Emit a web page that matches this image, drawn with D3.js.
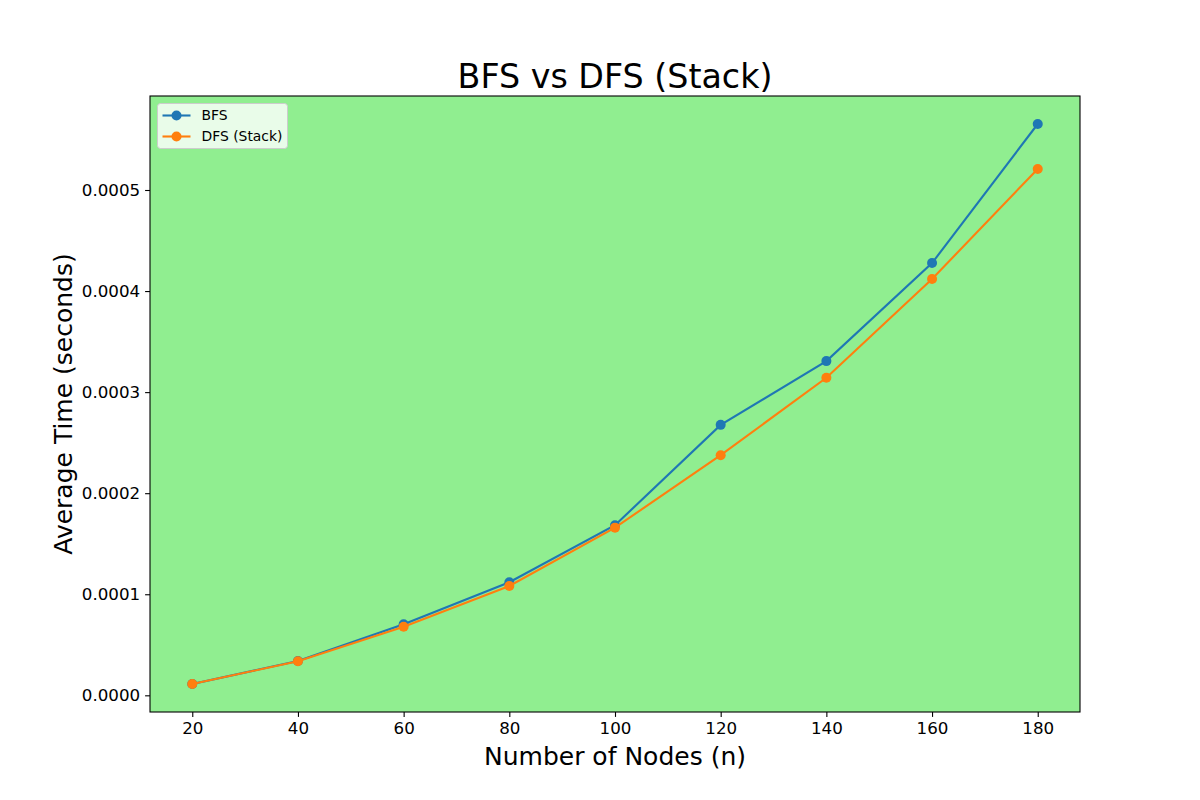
<!DOCTYPE html>
<html>
<head>
<meta charset="utf-8">
<script src="https://cdn.jsdelivr.net/npm/d3@7"></script>
<style>
  body { margin: 0; background: #fff; }
  svg text { font-family: "DejaVu Sans", sans-serif; fill: #000; }
</style>
</head>
<body>
<svg id="chart" width="1200" height="800"></svg>
<script>
// data
const nodes = [20, 40, 60, 80, 100, 120, 140, 160, 180];
const bfsTimes = [0.0000112, 0.0000340, 0.0000703, 0.0001119, 0.0001683, 0.0002676, 0.0003307, 0.0004277, 0.0005653];
const dfsTimes = [0.0000112, 0.0000337, 0.0000679, 0.0001082, 0.0001659, 0.0002376, 0.0003142, 0.0004119, 0.0005208];
const xTicks = [20, 40, 60, 80, 100, 120, 140, 160, 180];
const yTicks = [0, 0.0001, 0.0002, 0.0003, 0.0004, 0.0005];

const series = [
  { name: "BFS", values: bfsTimes, color: "#1f77b4" },
  { name: "DFS (Stack)", values: dfsTimes, color: "#ff7f0e" }
];

const width = 1200, height = 800;
const margin = { top: 96, right: 120, bottom: 88, left: 150 };
const plotW = width - margin.left - margin.right;
const plotH = height - margin.top - margin.bottom;

const svg = d3.select("#chart");

// matplotlib style 5% padding on both axes
const xExt = d3.extent(nodes);
const xPad = (xExt[1] - xExt[0]) * 0.05;
const allY = bfsTimes.concat(dfsTimes);
const yExt = d3.extent(allY);
const yPad = (yExt[1] - yExt[0]) * 0.05;

const x = d3.scaleLinear()
  .domain([xExt[0] - xPad, xExt[1] + xPad])
  .range([0, plotW]);
const y = d3.scaleLinear()
  .domain([yExt[0] - yPad, yExt[1] + yPad])
  .range([plotH, 0]);

const g = svg.append("g")
  .attr("transform", `translate(${margin.left}, ${margin.top})`);

g.append("rect")
  .attr("width", plotW)
  .attr("height", plotH)
  .attr("fill", "#90ee90");

const line = d3.line()
  .x((d, i) => x(nodes[i]))
  .y(d => y(d));

series.forEach(s => {
  g.append("path")
    .datum(s.values)
    .attr("fill", "none")
    .attr("stroke", s.color)
    .attr("stroke-width", 2.1)
    .attr("d", line);
  g.selectAll(null)
    .data(s.values)
    .enter()
    .append("circle")
    .attr("cx", (d, i) => x(nodes[i]))
    .attr("cy", d => y(d))
    .attr("r", 5)
    .attr("fill", s.color);
});

// axes
const xAxis = d3.axisBottom(x).tickValues(xTicks).tickSize(4.9).tickPadding(4.9);
const yAxis = d3.axisLeft(y).tickValues(yTicks).tickFormat(d3.format(".4f")).tickSize(4.9).tickPadding(4.9);

const xAxisGroup = g.append("g")
  .attr("transform", `translate(0, ${plotH})`)
  .call(xAxis);
const yAxisGroup = g.append("g").call(yAxis);

[xAxisGroup, yAxisGroup].forEach(ax => {
  ax.select(".domain").remove();
  ax.selectAll(".tick line").attr("stroke", "#000").attr("stroke-width", 1.1);
  ax.selectAll(".tick text")
    .attr("font-family", "DejaVu Sans, sans-serif")
    .attr("font-size", 16.7)
    .attr("fill", "#000");
});

// frame
g.append("rect")
  .attr("width", plotW)
  .attr("height", plotH)
  .attr("fill", "none")
  .attr("stroke", "#000")
  .attr("stroke-width", 1.1);

// title and labels
svg.append("text")
  .attr("x", margin.left + plotW / 2)
  .attr("y", 88)
  .attr("text-anchor", "middle")
  .attr("font-size", 33.3)
  .text("BFS vs DFS (Stack)");

svg.append("text")
  .attr("x", margin.left + plotW / 2)
  .attr("y", 765)
  .attr("text-anchor", "middle")
  .attr("font-size", 25)
  .text("Number of Nodes (n)");

svg.append("text")
  .attr("transform", `translate(72, ${margin.top + plotH / 2}) rotate(-90)`)
  .attr("text-anchor", "middle")
  .attr("font-size", 25)
  .text("Average Time (seconds)");

// legend
const legend = g.append("g").attr("transform", "translate(7.5, 7.5)");
legend.append("rect")
  .attr("width", 130)
  .attr("height", 45)
  .attr("rx", 3)
  .attr("fill", "#ffffff")
  .attr("fill-opacity", 0.8)
  .attr("stroke", "#cccccc")
  .attr("stroke-width", 1);

series.forEach((s, i) => {
  const row = legend.append("g").attr("transform", `translate(0, ${12 + i * 21})`);
  row.append("line")
    .attr("x1", 5).attr("x2", 33)
    .attr("stroke", s.color)
    .attr("stroke-width", 2.1);
  row.append("circle")
    .attr("cx", 19).attr("r", 5)
    .attr("fill", s.color);
  row.append("text")
    .attr("x", 44)
    .attr("dy", "0.35em")
    .attr("font-size", 13.9)
    .text(s.name);
});
</script>
</body>
</html>
